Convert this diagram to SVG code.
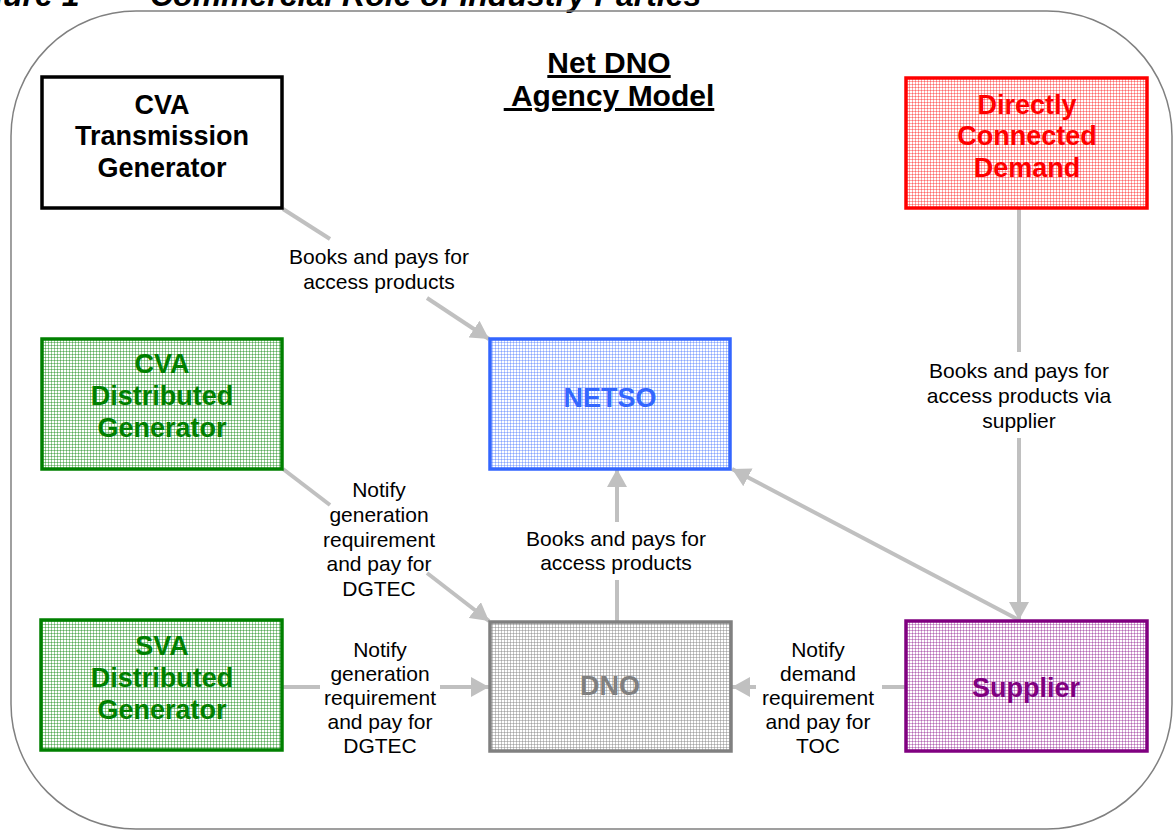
<svg xmlns="http://www.w3.org/2000/svg" width="1174" height="831" viewBox="0 0 1174 831">
<style>
.node{stroke-width:3.5}
.nt{font-family:"Liberation Sans",Arial,sans-serif;font-weight:bold;font-size:27px;text-anchor:middle}
.lbl{font-family:"Liberation Sans",Arial,sans-serif;font-size:21px;text-anchor:middle;fill:#000}
.conn{stroke:#c0c0c0;stroke-width:4;fill:none}
.title{font-family:"Liberation Sans",Arial,sans-serif;font-weight:bold;font-size:30px;text-anchor:middle;text-decoration:underline;fill:#000}
.fig{font-family:"Liberation Sans",Arial,sans-serif;font-weight:bold;font-style:italic;font-size:32px;fill:#000}
</style>
<defs>
<pattern id="pg" width="3" height="3" patternUnits="userSpaceOnUse"><rect width="3" height="3" fill="#fff"/><path d="M0 0.5H3M0.5 0V3" stroke="#008000" stroke-opacity="0.4" stroke-width="1"/></pattern>
<pattern id="pr" width="3" height="3" patternUnits="userSpaceOnUse"><rect width="3" height="3" fill="#fff"/><path d="M0 0.5H3M0.5 0V3" stroke="#ff0000" stroke-opacity="0.35" stroke-width="1"/></pattern>
<pattern id="pb" width="3" height="3" patternUnits="userSpaceOnUse"><rect width="3" height="3" fill="#fff"/><path d="M0 0.5H3M0.5 0V3" stroke="#3366ff" stroke-opacity="0.35" stroke-width="1"/></pattern>
<pattern id="pgr" width="3" height="3" patternUnits="userSpaceOnUse"><rect width="3" height="3" fill="#fff"/><path d="M0 0.5H3M0.5 0V3" stroke="#808080" stroke-opacity="0.45" stroke-width="1"/></pattern>
<pattern id="pp" width="3" height="3" patternUnits="userSpaceOnUse"><rect width="3" height="3" fill="#fff"/><path d="M0 0.5H3M0.5 0V3" stroke="#800080" stroke-opacity="0.35" stroke-width="1"/></pattern>
<marker id="ah" markerUnits="userSpaceOnUse" markerWidth="18" markerHeight="20" refX="18" refY="10" orient="auto"><path d="M0,0 L18,10 L0,20 z" fill="#c0c0c0"/></marker>
</defs>
<rect width="1174" height="831" fill="#fff"/>
<text class="fig" x="-45" y="6">Figure 1</text>
<text class="fig" x="150" y="6">Commercial Role of Industry Parties</text>
<rect x="11" y="11" width="1161" height="818" rx="125" ry="125" fill="none" stroke="#808080" stroke-width="1.5"/>
<g id="title">
<text class="title" x="609" y="73">Net DNO</text>
<text class="title" x="609" y="106" xml:space="preserve"> Agency Model</text>
</g>
<g id="connectors">
<line class="conn" x1="283" y1="209" x2="330" y2="239"/>
<line class="conn" x1="427" y1="298" x2="489" y2="339" marker-end="url(#ah)"/>
<line class="conn" x1="283" y1="469" x2="330" y2="505"/>
<line class="conn" x1="427" y1="573" x2="489" y2="621" marker-end="url(#ah)"/>
<line class="conn" x1="283" y1="687" x2="320" y2="687"/>
<line class="conn" x1="440" y1="687" x2="489" y2="687" marker-end="url(#ah)"/>
<line class="conn" x1="617" y1="622" x2="617" y2="580"/>
<line class="conn" x1="617" y1="522" x2="617" y2="469" marker-end="url(#ah)"/>
<line class="conn" x1="1019" y1="620" x2="732" y2="469" marker-end="url(#ah)"/>
<line class="conn" x1="1019" y1="209" x2="1019" y2="352"/>
<line class="conn" x1="1019" y1="438" x2="1019" y2="620" marker-end="url(#ah)"/>
<line class="conn" x1="905" y1="687" x2="882" y2="687"/>
<line class="conn" x1="756" y1="687" x2="732" y2="687" marker-end="url(#ah)"/>
</g>
<g id="labels">
<text class="lbl" x="379" y="264">Books and pays for</text>
<text class="lbl" x="379" y="289">access products</text>
<text class="lbl" x="379" y="497">Notify</text>
<text class="lbl" x="379" y="522">generation</text>
<text class="lbl" x="379" y="547">requirement</text>
<text class="lbl" x="379" y="571">and pay for</text>
<text class="lbl" x="379" y="596">DGTEC</text>
<text class="lbl" x="380" y="657">Notify</text>
<text class="lbl" x="380" y="681">generation</text>
<text class="lbl" x="380" y="705">requirement</text>
<text class="lbl" x="380" y="729">and pay for</text>
<text class="lbl" x="380" y="753">DGTEC</text>
<text class="lbl" x="616" y="546">Books and pays for</text>
<text class="lbl" x="616" y="570">access products</text>
<text class="lbl" x="1019" y="378">Books and pays for</text>
<text class="lbl" x="1019" y="403">access products via</text>
<text class="lbl" x="1019" y="428">supplier</text>
<text class="lbl" x="818" y="657">Notify</text>
<text class="lbl" x="818" y="681">demand</text>
<text class="lbl" x="818" y="705">requirement</text>
<text class="lbl" x="818" y="729">and pay for</text>
<text class="lbl" x="818" y="753">TOC</text>
</g>
<g id="cva-transmission">
<rect class="node" x="42" y="77" width="240" height="131" fill="#fff" stroke="#000"/>
<text class="nt" x="162" y="114" fill="#000">CVA</text>
<text class="nt" x="162" y="145" fill="#000">Transmission</text>
<text class="nt" x="162" y="177" fill="#000">Generator</text>
</g>
<g id="directly-connected-demand">
<rect class="node" x="906" y="78" width="241" height="130" fill="url(#pr)" stroke="#ff0000"/>
<text class="nt" x="1027" y="114" fill="#ff0000">Directly</text>
<text class="nt" x="1027" y="145" fill="#ff0000">Connected</text>
<text class="nt" x="1027" y="177" fill="#ff0000">Demand</text>
</g>
<g id="cva-distributed">
<rect class="node" x="42" y="339" width="240" height="130" fill="url(#pg)" stroke="#008000"/>
<text class="nt" x="162" y="373" fill="#008000">CVA</text>
<text class="nt" x="162" y="405" fill="#008000">Distributed</text>
<text class="nt" x="162" y="437" fill="#008000">Generator</text>
</g>
<g id="netso">
<rect class="node" x="490" y="339" width="240" height="130" fill="url(#pb)" stroke="#3366ff"/>
<text class="nt" x="610" y="407" fill="#3366ff">NETSO</text>
</g>
<g id="sva-distributed">
<rect class="node" x="41" y="620" width="241" height="130" fill="url(#pg)" stroke="#008000"/>
<text class="nt" x="162" y="655" fill="#008000">SVA</text>
<text class="nt" x="162" y="687" fill="#008000">Distributed</text>
<text class="nt" x="162" y="719" fill="#008000">Generator</text>
</g>
<g id="dno">
<rect class="node" x="490" y="622" width="241" height="129" fill="url(#pgr)" stroke="#808080"/>
<text class="nt" x="610" y="695" fill="#808080">DNO</text>
</g>
<g id="supplier">
<rect class="node" x="906" y="621" width="241" height="130" fill="url(#pp)" stroke="#800080"/>
<text class="nt" x="1026" y="697" fill="#800080">Supplier</text>
</g>
</svg>
